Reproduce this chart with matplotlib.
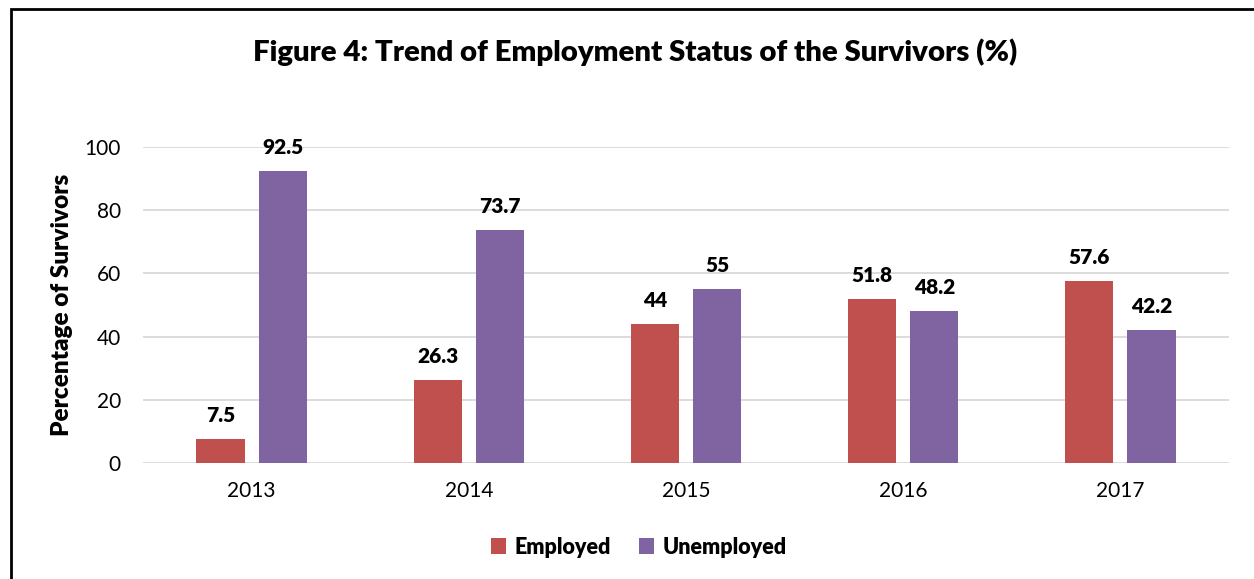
import matplotlib
matplotlib.use("Agg")
import matplotlib.pyplot as plt
import numpy as np
from matplotlib.patches import Rectangle

plt.rcParams['font.family'] = ['Lato', 'DejaVu Sans']

years = ["2013", "2014", "2015", "2016", "2017"]
employed = [7.5, 26.3, 44, 51.8, 57.6]
unemployed = [92.5, 73.7, 55, 48.2, 42.2]
employed_labels = ["7.5", "26.3", "44", "51.8", "57.6"]
unemployed_labels = ["92.5", "73.7", "55", "48.2", "42.2"]

RED = "#C0504D"
PURPLE = "#8064A2"
BOLD = 800

fig = plt.figure(figsize=(12.54, 5.79), dpi=100)
ax = fig.add_axes([143 / 1254, 1 - 463 / 579, (1229 - 143) / 1254, (463 - 147) / 579])

x = np.arange(len(years))
w = 0.222
off = 0.143
b1 = ax.bar(x - off, employed, w, color=RED, label="Employed", zorder=3)
b2 = ax.bar(x + off, unemployed, w, color=PURPLE, label="Unemployed", zorder=3)

for bars, labels in ((b1, employed_labels), (b2, unemployed_labels)):
    for rect, lab in zip(bars, labels):
        ax.annotate(lab, (rect.get_x() + rect.get_width() / 2, rect.get_height()),
                    xytext=(0, 10), textcoords="offset points", ha="center", va="bottom",
                    fontsize=15, fontweight=BOLD, color="black")

ax.set_xlim(-0.5, len(years) - 0.5)
ax.set_ylim(0, 100)
ax.set_yticks([0, 20, 40, 60, 80, 100])
ax.set_xticks(x)
ax.set_xticklabels(years)
ax.tick_params(axis="both", length=0, labelsize=15, colors="black")
ax.tick_params(axis="y", pad=16)
ax.tick_params(axis="x", pad=13)
ax.yaxis.grid(True, color="#D9D9D9", linewidth=1.3, zorder=0)
ax.set_axisbelow(True)
for s in ax.spines.values():
    s.set_visible(False)

fig.text(62 / 1254, 1 - 305 / 579, "Percentage of Survivors", rotation=90,
         ha="center", va="center", fontsize=17.5, fontweight=BOLD)
fig.text(635 / 1254, 1 - 52 / 579, "Figure 4: Trend of Employment Status of the Survivors (%)",
         ha="center", va="center", fontsize=21.2, fontweight=BOLD)

fig.legend(handles=[b1, b2], loc="center", bbox_to_anchor=(639 / 1254, 1 - 547 / 579),
           ncol=2, frameon=False, prop={"size": 15.5, "weight": BOLD},
           handlelength=0.7, handleheight=0.7, handletextpad=0.4, columnspacing=1.3)

# outer frame (left and top edges visible)
fig.patches.append(Rectangle((11 / 1254, -0.1), 1.2, 1.1 - 9 / 579,
                             transform=fig.transFigure, fill=False,
                             edgecolor="black", linewidth=2))

fig.savefig("out.png", dpi=100)
